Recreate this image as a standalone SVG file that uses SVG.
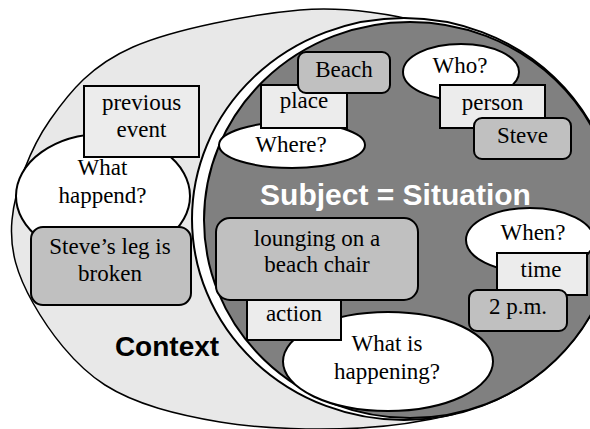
<svg xmlns="http://www.w3.org/2000/svg" width="590" height="429" viewBox="0 0 590 429">
  <style>
    .lbl{font-family:"Liberation Serif","Times New Roman",serif;font-size:23px;fill:#000;text-anchor:middle}
    .sq{fill:#ececec;stroke:#000;stroke-width:2}
    .rd{fill:#c0c0c0;stroke:#000;stroke-width:2}
    .q{fill:#fff;stroke:#000;stroke-width:2}
    .head{font-family:"Liberation Sans",Arial,sans-serif;font-weight:bold;text-anchor:middle}
  </style>
  <rect width="590" height="429" fill="#fff"/>

  <!-- outer context region -->
  <g id="context">
    <path d="M 420,22 C 400,16 347.8,5.8 300,10 C 252.2,14.2 174.7,28.7 133,47 C 91.3,65.3 70.2,91.2 50,120 C 29.8,148.8 14.8,189.5 12,220 C 9.2,250.5 17.5,275.5 33,303 C 48.5,330.5 73.8,365.2 105,385 C 136.2,404.8 177.5,414.8 220,422 C 262.5,429.2 320,430 360,428 C 400,426 430,420 455,414 L 560,200 Z" fill="#e8e8e8" stroke="#000" stroke-width="1.5"/>
    <text class="head" x="167" y="356" font-size="28">Context</text>
  </g>

  <!-- inner subject region with white rim -->
  <g id="subject">
    <ellipse cx="404" cy="219" rx="212" ry="201" fill="#fff" stroke="#000" stroke-width="2"/>
    <ellipse cx="410" cy="220" rx="206" ry="198" fill="#808080" stroke="#000" stroke-width="2"/>
    <text class="head" x="395.5" y="205" font-size="30" fill="#fff">Subject = Situation</text>
  </g>

  <g id="what-happend">
    <ellipse class="q" cx="103" cy="196" rx="87" ry="62"/>
    <text class="lbl" x="102.5" y="175">What</text>
    <text class="lbl" x="102.5" y="203">happend?</text>
  </g>
  <g id="previous-event">
    <rect class="sq" x="84" y="86" width="115" height="71"/>
    <text class="lbl" x="141.5" y="110">previous</text>
    <text class="lbl" x="141.5" y="137">event</text>
  </g>
  <g id="leg-broken">
    <rect class="rd" x="31" y="227" width="160" height="78" rx="12"/>
    <text class="lbl" x="110" y="254">Steve’s leg is</text>
    <text class="lbl" x="110" y="281">broken</text>
  </g>

  <g id="where">
    <ellipse class="q" cx="292" cy="145" rx="73" ry="23"/>
    <text class="lbl" x="291" y="152">Where?</text>
  </g>
  <g id="place">
    <rect class="sq" x="261" y="85" width="86" height="43"/>
    <text class="lbl" x="304" y="108">place</text>
  </g>
  <g id="beach">
    <rect class="rd" x="298" y="52" width="92" height="41" rx="8"/>
    <text class="lbl" x="344" y="77">Beach</text>
  </g>

  <g id="who">
    <ellipse class="q" cx="461" cy="72" rx="58" ry="28"/>
    <text class="lbl" x="460" y="73">Who?</text>
  </g>
  <g id="person">
    <rect class="sq" x="440" y="85" width="105" height="43"/>
    <text class="lbl" x="492.5" y="110">person</text>
  </g>
  <g id="steve">
    <rect class="rd" x="474" y="118" width="97" height="41" rx="8"/>
    <text class="lbl" x="522.5" y="143">Steve</text>
  </g>

  <g id="what-is-happening">
    <ellipse class="q" cx="388" cy="361.5" rx="105" ry="49.5"/>
    <text class="lbl" x="387" y="351">What is</text>
    <text class="lbl" x="387" y="379">happening?</text>
  </g>
  <g id="action">
    <rect class="sq" x="247" y="292" width="94" height="48"/>
    <text class="lbl" x="294" y="321">action</text>
  </g>
  <g id="lounging">
    <rect class="rd" x="216" y="218" width="202" height="82" rx="14"/>
    <text class="lbl" x="317" y="246">lounging on a</text>
    <text class="lbl" x="317" y="272">beach chair</text>
  </g>

  <g id="when">
    <ellipse class="q" cx="530" cy="240" rx="64" ry="32"/>
    <text class="lbl" x="533" y="240">When?</text>
  </g>
  <g id="time">
    <rect class="sq" x="497" y="253" width="90" height="42"/>
    <text class="lbl" x="541" y="277">time</text>
  </g>
  <g id="two-pm">
    <rect class="rd" x="469" y="290" width="98" height="41" rx="8"/>
    <text class="lbl" x="518" y="314">2 p.m.</text>
  </g>

  <g id="connectors"/>
</svg>
